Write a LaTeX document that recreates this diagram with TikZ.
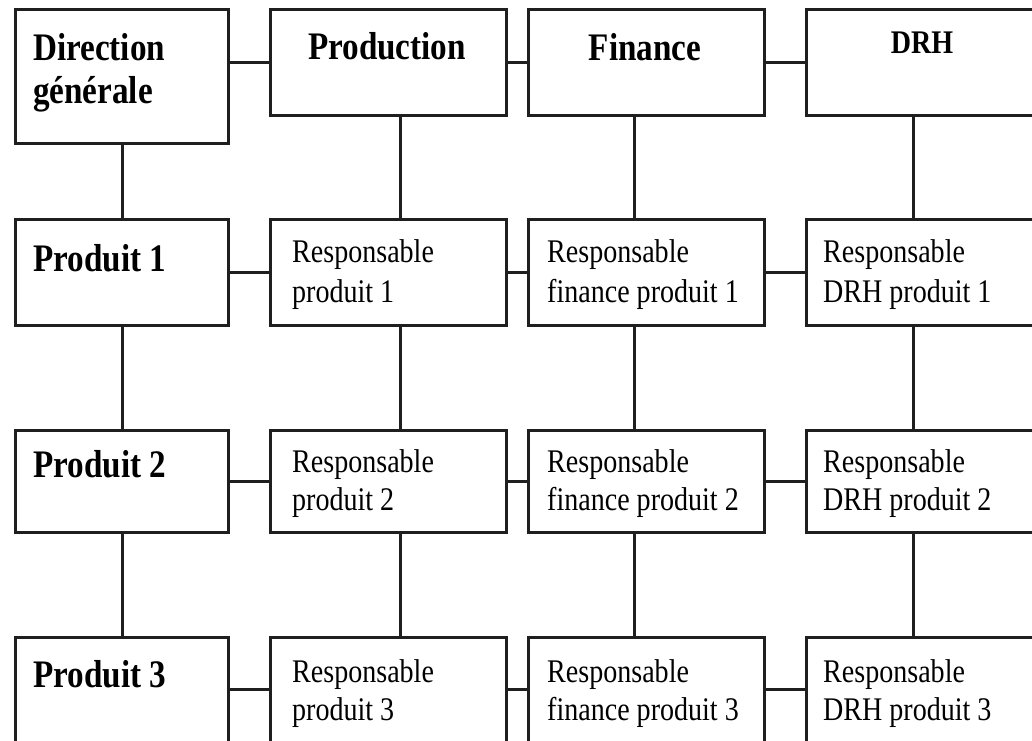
\documentclass[tikz,border=0pt]{standalone}
\usepackage{fontspec}
\setmainfont[FakeStretch=0.85]{Liberation Serif}
\usetikzlibrary{calc}

% two stacked lines whose baseline is the first line's baseline
\newcommand{\twolines}[3]{\vtop{\baselineskip=#3pt\hbox{#1}\hbox{#2}}}

\tikzset{
  unitbox/.style={draw=black!88, line width=3pt, rectangle, inner sep=0pt,
                  outer sep=0pt, anchor=north west},
  link/.style={draw=black!88, line width=3pt},
  head/.style={inner sep=0pt, font=\fontsize{39}{43}\selectfont\bfseries},
  smallhead/.style={inner sep=0pt, font=\fontsize{33}{38}\selectfont\bfseries},
  role/.style={inner sep=0pt, anchor=base west, font=\fontsize{33}{39}\selectfont},
}

\begin{document}
\begin{tikzpicture}[x=1pt, y=-1pt]
  \useasboundingbox (0,0) rectangle (1032,740);
  \fill[white] (0,0) rectangle (1032,740);
  \clip (0,0) rectangle (1032,740);

  % ---- boxes: columns (general / production / finance / HR), rows (top, product 1..3)
  \node[unitbox, minimum width=213pt, minimum height=134pt] (dg)   at (15,9) {};
  \node[unitbox, minimum width=236pt, minimum height=106pt] (prod) at (270,9) {};
  \node[unitbox, minimum width=236pt, minimum height=106pt] (fin)  at (528,9) {};
  \node[unitbox, minimum width=234pt, minimum height=106pt] (drh)  at (806,9) {};

  \node[unitbox, minimum width=213pt, minimum height=106pt] (p1)  at (15,219) {};
  \node[unitbox, minimum width=236pt, minimum height=106pt] (r21) at (270,219) {};
  \node[unitbox, minimum width=236pt, minimum height=106pt] (r31) at (528,219) {};
  \node[unitbox, minimum width=234pt, minimum height=106pt] (r41) at (806,219) {};

  \node[unitbox, minimum width=213pt, minimum height=102pt] (p2)  at (15,430) {};
  \node[unitbox, minimum width=236pt, minimum height=102pt] (r22) at (270,430) {};
  \node[unitbox, minimum width=236pt, minimum height=102pt] (r32) at (528,430) {};
  \node[unitbox, minimum width=234pt, minimum height=102pt] (r42) at (806,430) {};

  \node[unitbox, minimum width=213pt, minimum height=105pt] (p3)  at (15,637) {};
  \node[unitbox, minimum width=236pt, minimum height=105pt] (r23) at (270,637) {};
  \node[unitbox, minimum width=236pt, minimum height=105pt] (r33) at (528,637) {};
  \node[unitbox, minimum width=234pt, minimum height=105pt] (r43) at (806,637) {};

  % ---- vertical axes of the column connectors
  \coordinate (v1) at (122,0);
  \coordinate (v2) at (400,0);
  \coordinate (v3) at (634,0);
  \coordinate (v4) at (913,0);

  % ---- horizontal connectors
  \draw[link] (prod.west) -- (prod.west -| dg.east);
  \draw[link] (prod.east) -- (fin.west);
  \draw[link] (fin.east)  -- (drh.west);
  \draw[link] (p1.east)  -- (r21.west);
  \draw[link] (r21.east) -- (r31.west);
  \draw[link] (r31.east) -- (r41.west);
  \draw[link] (p2.east)  -- (r22.west);
  \draw[link] (r22.east) -- (r32.west);
  \draw[link] (r32.east) -- (r42.west);
  \draw[link] (p3.east)  -- (r23.west);
  \draw[link] (r23.east) -- (r33.west);
  \draw[link] (r33.east) -- (r43.west);

  % ---- vertical connectors
  \draw[link] (dg.south -| v1)   -- (p1.north -| v1);
  \draw[link] (prod.south -| v2) -- (r21.north -| v2);
  \draw[link] (fin.south -| v3)  -- (r31.north -| v3);
  \draw[link] (drh.south -| v4)  -- (r41.north -| v4);
  \draw[link] (p1.south -| v1)  -- (p2.north -| v1);
  \draw[link] (r21.south -| v2) -- (r22.north -| v2);
  \draw[link] (r31.south -| v3) -- (r32.north -| v3);
  \draw[link] (r41.south -| v4) -- (r42.north -| v4);
  \draw[link] (p2.south -| v1)  -- (p3.north -| v1);
  \draw[link] (r22.south -| v2) -- (r23.north -| v2);
  \draw[link] (r32.south -| v3) -- (r33.north -| v3);
  \draw[link] (r42.south -| v4) -- (r43.north -| v4);

  % ---- headings
  \node[head, anchor=base west] (tdg) at (33,60) {\twolines{Direction}{générale}{43}};
  \node[head, anchor=base] (tprod) at (387,59) {Production};
  \node[head, anchor=base] (tfin)  at (645,60) {Finance};
  \node[smallhead, anchor=base] (tdrh) at (922,53) {DRH};

  \node[head, anchor=base west] (tp1) at (33,271) {Produit 1};
  \node[head, anchor=base west] (tp2) at (33,477) {Produit 2};
  \node[head, anchor=base west] (tp3) at (33,687) {Produit 3};

  % ---- responsibles
  \node[role] (t21) at (292,262) {\twolines{Responsable}{produit 1}{40}};
  \node[role] (t31) at (547,262) {\twolines{Responsable}{finance produit 1}{40}};
  \node[role] (t41) at (823,262) {\twolines{Responsable}{DRH produit 1}{40}};

  \node[role] (t22) at (292,472) {\twolines{Responsable}{produit 2}{38}};
  \node[role] (t32) at (547,472) {\twolines{Responsable}{finance produit 2}{38}};
  \node[role] (t42) at (823,472) {\twolines{Responsable}{DRH produit 2}{38}};

  \node[role] (t23) at (292,682) {\twolines{Responsable}{produit 3}{38}};
  \node[role] (t33) at (547,682) {\twolines{Responsable}{finance produit 3}{38}};
  \node[role] (t43) at (823,682) {\twolines{Responsable}{DRH produit 3}{38}};
\end{tikzpicture}
\end{document}
